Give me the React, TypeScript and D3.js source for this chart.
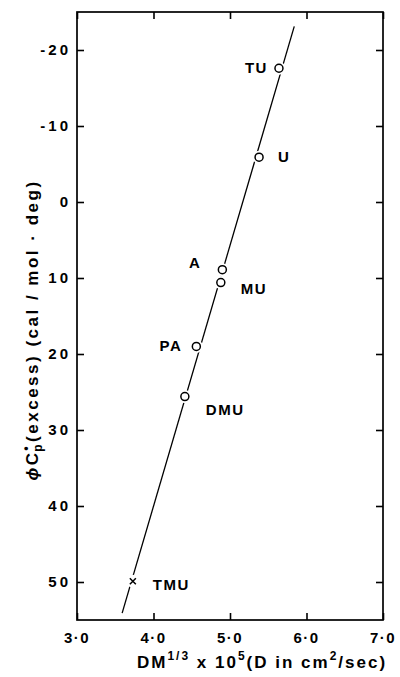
import React, { useEffect, useRef } from 'react';
import * as d3 from 'd3';

// tick values and their printed labels
const xTicks = [3, 4, 5, 6, 7];
const xTickLabels = ['3·0', '4·0', '5·0', '6·0', '7·0'];
const yTicks = [-20, -10, 0, 10, 20, 30, 40, 50];
const yTickLabels = ['-20', '-10', '0', '10', '20', '30', '40', '50'];

// compounds
const names = ['TU', 'U', 'A', 'MU', 'PA', 'DMU', 'TMU'];
const dmValues = [5.64, 5.38, 4.9, 4.88, 4.56, 4.41, 3.73];
const cpValues = [-17.6, -5.9, 8.9, 10.6, 19.0, 25.6, 49.9];
const markers = ['o', 'o', 'o', 'o', 'o', 'o', 'x'];

// fitted straight line (end points)
const fitX = [5.84, 3.59];
const fitY = [-23.1, 54.1];

// label placement (pixel offsets from the point)
const labelDx = [-11, 19, -21, 20, -14, 21, 20];
const labelDy = [5, 5, -2, 11, 5, 18, 9];
const labelAnchor = ['end', 'start', 'end', 'start', 'end', 'start', 'start'];

export default function App() {
  const ref = useRef<SVGSVGElement>(null);
  const width = 400;
  const height = 677;
  const margin = { top: 12, right: 17, bottom: 57, left: 77 };

  useEffect(() => {
    const svg = d3.select(ref.current);
    svg.selectAll('*').remove();

    const font = '"Liberation Sans", Arial, sans-serif';
    const x = d3.scaleLinear().domain([3, 7]).range([margin.left, width - margin.right]);
    const y = d3.scaleLinear().domain([-25, 55]).range([margin.top, height - margin.bottom]);

    const g = svg.append('g');

    // frame
    g.append('rect')
      .attr('x', x(3))
      .attr('y', y(-25))
      .attr('width', x(7) - x(3))
      .attr('height', y(55) - y(-25))
      .attr('fill', 'none')
      .attr('stroke', '#000')
      .attr('stroke-width', 1.7);

    // axes with inward ticks
    const tickLen = 7;
    g.append('g')
      .attr('transform', `translate(0,${y(55)})`)
      .call(d3.axisTop(x).tickValues(xTicks).tickSize(tickLen).tickFormat(() => ''));
    g.append('g')
      .attr('transform', `translate(0,${y(-25)})`)
      .call(d3.axisBottom(x).tickValues(xTicks).tickSize(tickLen).tickFormat(() => ''));
    g.append('g')
      .attr('transform', `translate(${x(3)},0)`)
      .call(d3.axisRight(y).tickValues(yTicks).tickSize(tickLen).tickFormat(() => ''));
    g.append('g')
      .attr('transform', `translate(${x(7)},0)`)
      .call(d3.axisLeft(y).tickValues(yTicks).tickSize(tickLen).tickFormat(() => ''));
    g.selectAll('.domain').remove();
    g.selectAll('.tick line').attr('stroke', '#000').attr('stroke-width', 1.6);

    // tick labels
    g.selectAll('.xlab')
      .data(xTicks)
      .join('text')
      .attr('x', (d) => x(d))
      .attr('y', y(55) + 23)
      .attr('text-anchor', 'middle')
      .attr('font-family', font)
      .attr('font-weight', 'bold')
      .attr('font-size', 15)
      .attr('letter-spacing', 1.5)
      .text((d, i) => xTickLabels[i]);
    g.selectAll('.ylab')
      .data(yTicks)
      .join('text')
      .attr('x', x(3) - 6)
      .attr('y', (d) => y(d) + 5)
      .attr('text-anchor', 'end')
      .attr('font-family', font)
      .attr('font-weight', 'bold')
      .attr('font-size', 15)
      .attr('letter-spacing', 3)
      .text((d, i) => yTickLabels[i]);

    // fit line
    g.append('line')
      .attr('x1', x(fitX[0]))
      .attr('y1', y(fitY[0]))
      .attr('x2', x(fitX[1]))
      .attr('y2', y(fitY[1]))
      .attr('stroke', '#000')
      .attr('stroke-width', 1.3);

    // white gaps round markers
    g.selectAll('.gap')
      .data(names)
      .join('circle')
      .attr('cx', (d, i) => x(dmValues[i]))
      .attr('cy', (d, i) => y(cpValues[i]))
      .attr('r', 6.5)
      .attr('fill', '#fff');

    names.forEach((n, i) => {
      const px = x(dmValues[i]);
      const py = y(cpValues[i]);
      if (markers[i] === 'o') {
        g.append('circle')
          .attr('cx', px)
          .attr('cy', py)
          .attr('r', 4)
          .attr('fill', '#fff')
          .attr('stroke', '#000')
          .attr('stroke-width', 1.5);
      } else {
        g.append('path')
          .attr('d', `M${px - 3},${py - 3}L${px + 3},${py + 3}M${px + 3},${py - 3}L${px - 3},${py + 3}`)
          .attr('stroke', '#000')
          .attr('stroke-width', 1.5);
      }
      g.append('text')
        .attr('x', px + labelDx[i])
        .attr('y', py + labelDy[i])
        .attr('text-anchor', labelAnchor[i])
        .attr('font-family', font)
        .attr('font-weight', 'bold')
        .attr('font-size', 15)
        .attr('letter-spacing', 1.5)
        .text(n);
    });

    // x axis title
    const xt = svg.append('text')
      .attr('x', 262)
      .attr('y', 668)
      .attr('text-anchor', 'middle')
      .attr('font-family', font)
      .attr('font-weight', 'bold')
      .attr('font-size', 17)
      .attr('letter-spacing', 2);
    xt.append('tspan').text('DM');
    xt.append('tspan').attr('dy', -8).attr('font-size', 12).text('1/3');
    xt.append('tspan').attr('dy', 8).text(' x 10');
    xt.append('tspan').attr('dy', -8).attr('font-size', 12).text('5');
    xt.append('tspan').attr('dy', 8).text('(D in cm');
    xt.append('tspan').attr('dy', -8).attr('font-size', 12).text('2');
    xt.append('tspan').attr('dy', 8).text('/sec)');

    // y axis title
    const yt = svg.append('text')
      .attr('transform', 'translate(38,330) rotate(-90)')
      .attr('text-anchor', 'middle')
      .attr('font-family', font)
      .attr('font-weight', 'bold')
      .attr('font-size', 17)
      .attr('letter-spacing', 2.5);
    yt.append('tspan').attr('font-style', 'italic').text('ϕ');
    yt.append('tspan').text('C');
    yt.append('tspan').attr('dy', -8).attr('font-size', 12).text('•');
    yt.append('tspan').attr('dx', -8).attr('dy', 12).attr('font-size', 12).text('p');
    yt.append('tspan').attr('dy', -4).text('(excess) (cal / mol · deg)');
  }, []);

  return (
    <svg
      ref={ref}
      width={width}
      height={height}
      style={{ position: 'absolute', left: 0, top: 0, background: '#fff' }}
    />
  );
}
